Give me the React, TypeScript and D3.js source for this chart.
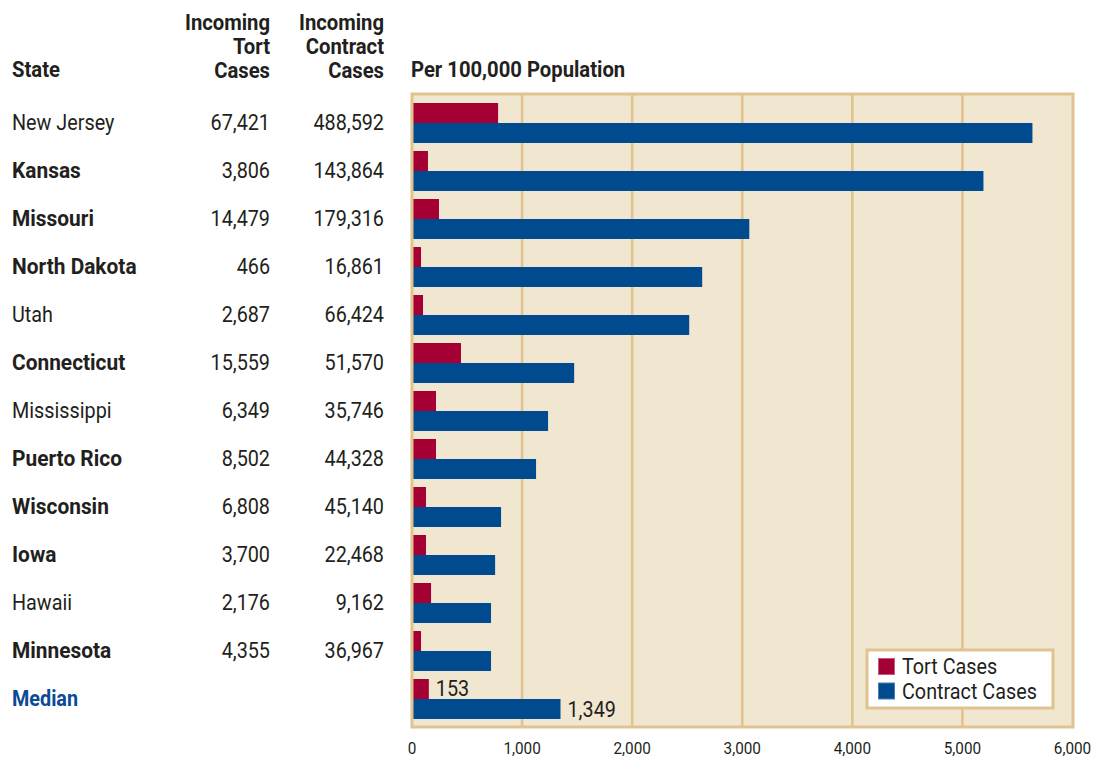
import React from 'react';
import * as d3 from 'd3';

const states = [
  'New Jersey', 'Kansas', 'Missouri', 'North Dakota', 'Utah', 'Connecticut',
  'Mississippi', 'Puerto Rico', 'Wisconsin', 'Iowa', 'Hawaii', 'Minnesota',
];
const boldStates = [false, true, true, true, false, true, false, true, true, true, false, true];
const tortCases = ['67,421', '3,806', '14,479', '466', '2,687', '15,559', '6,349', '8,502', '6,808', '3,700', '2,176', '4,355'];
const contractCases = ['488,592', '143,864', '179,316', '16,861', '66,424', '51,570', '35,746', '44,328', '45,140', '22,468', '9,162', '36,967'];
const tortRate = [782, 145, 245, 82, 100, 445, 218, 218, 127, 127, 173, 82];
const contractRate = [5636, 5191, 3064, 2636, 2518, 1473, 1236, 1127, 809, 755, 718, 718];
const medianLabel = 'Median';
const medianTort = 153;
const medianContract = 1349;
const xTicks = [0, 1000, 2000, 3000, 4000, 5000, 6000];
const seriesNames = ['Tort Cases', 'Contract Cases'];

const RED = '#a50034';
const BLUE = '#004a8f';
const TAN = '#dfc48f';
const BG = '#f1e6d0';
const TEXT = '#231f20';
const FONT = 'Roboto, "Liberation Sans", sans-serif';

interface TProps {
  x: number;
  y: number;
  anchor?: 'start' | 'middle' | 'end';
  size?: number;
  bold?: boolean;
  squeeze?: number;
  fill?: string;
  children: React.ReactNode;
}

// text squeezed horizontally to fake a condensed face
const T: React.FC<TProps> = ({ x, y, anchor = 'start', size = 22, bold, squeeze = 0.9, fill = TEXT, children }) => (
  <text
    transform={`translate(${x},${y}) scale(${squeeze},1)`}
    textAnchor={anchor}
    fontSize={size}
    fontWeight={bold ? 'bold' : 'normal'}
    fill={fill}
  >
    {children}
  </text>
);

const App: React.FC = () => {
  const width = 1094;
  const height = 757;

  const rows = [...states, medianLabel];
  const tort = [...tortRate, medianTort];
  const contract = [...contractRate, medianContract];

  const x = d3.scaleLinear().domain([0, 6000]).range([412, 1072.5]);
  const y = d3.scaleBand<string>()
    .domain(rows)
    .range([99, 723])
    .paddingInner(1 / 6)
    .paddingOuter(1 / 12);
  const sub = d3.scaleBand<string>()
    .domain(['tort', 'contract'])
    .range([0, y.bandwidth()]);

  const frame = { x0: 412, x1: 1073, y0: 94, y1: 727 };
  const fmt = d3.format(',');

  const labelY = (s: string) => (y(s) || 0) + sub.bandwidth() + 7;

  return (
    <svg
      width={width}
      height={height}
      style={{ position: 'absolute', left: 0, top: 0, background: '#fff' }}
      fontFamily={FONT}
    >
      {/* column headers */}
      <T x={12} y={77} size={22.5} bold>State</T>
      <T x={270} y={30} anchor="end" size={22.5} bold>Incoming</T>
      <T x={270} y={54} anchor="end" size={22.5} bold>Tort</T>
      <T x={270} y={78} anchor="end" size={22.5} bold>Cases</T>
      <T x={384} y={30} anchor="end" size={22.5} bold>Incoming</T>
      <T x={384} y={54} anchor="end" size={22.5} bold>Contract</T>
      <T x={384} y={78} anchor="end" size={22.5} bold>Cases</T>
      <T x={411} y={77} size={22.5} bold>Per 100,000 Population</T>

      {/* table */}
      {states.map((s, i) => (
        <g key={s}>
          <T x={12} y={labelY(s)} bold={boldStates[i]} squeeze={boldStates[i] ? 0.95 : 0.9}>{s}</T>
          <T x={270} y={labelY(s)} anchor="end">{tortCases[i]}</T>
          <T x={384} y={labelY(s)} anchor="end">{contractCases[i]}</T>
        </g>
      ))}
      <T x={12} y={labelY(medianLabel)} bold fill="#0b4a95">{medianLabel}</T>

      {/* plot background + grid */}
      <rect x={frame.x0} y={frame.y0} width={frame.x1 - frame.x0} height={frame.y1 - frame.y0} fill={BG} />
      {xTicks.slice(1, -1).map(t => (
        <line key={t} x1={x(t)} x2={x(t)} y1={frame.y0} y2={frame.y1} stroke={TAN} strokeWidth={2.6} />
      ))}

      {/* bars */}
      {rows.map((s, i) => (
        <g key={s}>
          <rect x={x(0)} y={(y(s) || 0) + (sub('tort') || 0)} width={x(tort[i]) - x(0)} height={sub.bandwidth()} fill={RED} />
          <rect x={x(0)} y={(y(s) || 0) + (sub('contract') || 0)} width={x(contract[i]) - x(0)} height={sub.bandwidth()} fill={BLUE} />
        </g>
      ))}

      {/* median value labels */}
      <T x={x(medianTort) + 7} y={(y(medianLabel) || 0) + sub.bandwidth() - 3}>{fmt(medianTort)}</T>
      <T x={x(medianContract) + 7} y={(y(medianLabel) || 0) + 2 * sub.bandwidth() - 2}>{fmt(medianContract)}</T>

      {/* frame */}
      <rect x={frame.x0} y={frame.y0} width={frame.x1 - frame.x0} height={frame.y1 - frame.y0} fill="none" stroke={TAN} strokeWidth={3} />

      {/* legend */}
      <g>
        <rect x={867} y={650} width={186} height={58} fill="#fff" stroke={TAN} strokeWidth={3} />
        {seriesNames.map((n, i) => (
          <g key={n}>
            <rect x={878.5} y={658.5 + i * 24.5} width={16} height={16} fill={i === 0 ? RED : BLUE} stroke={i === 0 ? '#c75a78' : '#4a7fb5'} strokeWidth={1} />
            <T x={902} y={674 + i * 24.5}>{n}</T>
          </g>
        ))}
      </g>

      {/* x axis labels */}
      {xTicks.map(t => (
        <T key={t} x={x(t)} y={754} anchor="middle" size={17}>{fmt(t)}</T>
      ))}
    </svg>
  );
};

export default App;
